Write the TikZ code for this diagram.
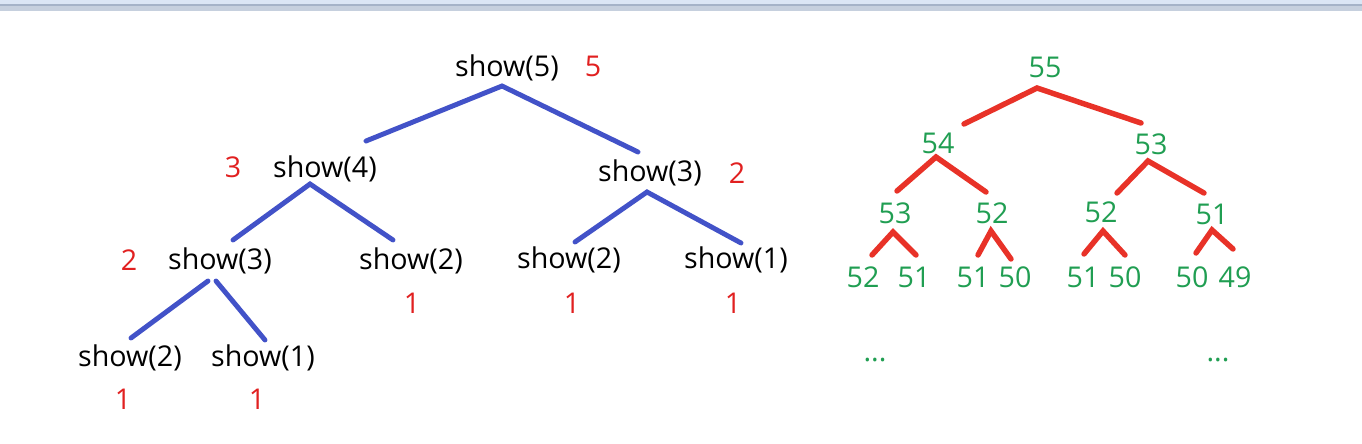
\documentclass[tikz,border=0pt]{standalone}
\usepackage{fontspec}
\setmainfont{Open Sans}
\usepackage{tikz}
\usetikzlibrary{calc}

\definecolor{edgeblue}{RGB}{66,82,200}
\definecolor{edgered}{RGB}{232,50,40}
\definecolor{countred}{RGB}{225,32,32}
\definecolor{valgreen}{RGB}{32,158,82}
\definecolor{barlight}{RGB}{219,230,245}
\definecolor{bardark}{RGB}{165,179,200}
\definecolor{barmid}{RGB}{198,208,222}

\begin{document}
\begin{tikzpicture}[x=0.02cm, y=-0.02cm]
			\tikzstyle{Call}	= [inner sep=0pt, text height=12.4pt, text depth=3.3pt, font=\fontsize{16.3}{19}\selectfont]
			\tikzstyle{Count}	= [Call, text=countred]
			\tikzstyle{Value}	= [Call, text=valgreen]
			\tikzstyle{CE}		= [line width=2.8pt, line cap=round, edgeblue]
			\tikzstyle{VE}		= [line width=3.1pt, line cap=round, edgered]
			
			\useasboundingbox (0, 0) rectangle (1362, 443);
			\fill [white] (0, 0) rectangle (1362, 443);
			\fill [barlight] (0, 0) rectangle (1362, 4);
			\fill [bardark] (0, 4) rectangle (1362, 6);
			\fill [barmid] (0, 6) rectangle (1362, 11);
			
			% calls of show
			\node (c5) at (507, 69) [Call] {show(5)};
			\node (c4) at (325, 170) [Call] {show(4)};
			\node (c3a) at (650, 174) [Call] {show(3)};
			\node (c3b) at (220, 262) [Call] {show(3)};
			\node (c2a) at (411, 262) [Call] {show(2)};
			\node (c2b) at (569, 261) [Call] {show(2)};
			\node (c1a) at (736, 261) [Call] {show(1)};
			\node (c2c) at (130, 358) [Call] {show(2)};
			\node (c1b) at (263, 358) [Call] {show(1)};
			
			\node (k5) at (593, 69) [Count] {5};
			\node (k4) at (233, 170) [Count] {3};
			\node (k3a) at (737, 176) [Count] {2};
			\node (k3b) at (129, 263) [Count] {2};
			\node (k2a) at (412, 305) [Count] {1};
			\node (k2b) at (572, 305) [Count] {1};
			\node (k1a) at (733, 305) [Count] {1};
			\node (k2c) at (123, 401) [Count] {1};
			\node (k1b) at (257, 401) [Count] {1};
			
			\draw [-] ($(c4)+(41,-29)$) to ($(c5)+(-5,17)$) to ($(c3a)+(-12,-22)$) [CE];
			\draw [-] ($(c3b)+(13,-22)$) to ($(c4)+(-15,14)$) to ($(c2a)+(-18,-22)$) [CE];
			\draw [-] ($(c2b)+(6,-19)$) to ($(c3a)+(-3,18)$) to ($(c1a)+(5,-18)$) [CE];
			\draw [-] ($(c3b)+(-12,19)$) to ($(c2c)+(1,-20)$) [CE];
			\draw [-] ($(c3b)+(-4,19)$) to ($(c1b)+(2,-18)$) [CE];
			
			% values
			\node (v55) at (1045, 70) [Value] {55};
			\node (v54) at (938, 146) [Value] {54};
			\node (v53) at (1151, 147) [Value] {53};
			\node (v53a) at (895, 216) [Value] {53};
			\node (v52a) at (992, 216) [Value] {52};
			\node (v52b) at (1101, 215) [Value] {52};
			\node (v51a) at (1212, 217) [Value] {51};
			\node (w52) at (863, 279) [Value] {52};
			\node (w51) at (914, 279) [Value] {51};
			\node (w51b) at (973, 279) [Value] {51};
			\node (w50) at (1015, 279) [Value] {50};
			\node (w51c) at (1083, 279) [Value] {51};
			\node (w50b) at (1125, 279) [Value] {50};
			\node (w50c) at (1192, 279) [Value] {50};
			\node (w49) at (1235, 279) [Value] {49};
			\node (dl) at (875, 353) [Value] {...};
			\node (dr) at (1218, 353) [Value] {...};
			
			\draw [-] ($(v54)+(26,-22)$) to ($(v55)+(-8,18)$) to ($(v53)+(-10,-24)$) [VE];
			\draw [-] ($(v53a)+(2,-25)$) to ($(v54)+(-2,11)$) to ($(v52a)+(-6,-24)$) [VE];
			\draw [-] ($(v52b)+(16,-22)$) to ($(v53)+(-3,14)$) to ($(v51a)+(-8,-24)$) [VE];
			\draw [-] ($(w52)+(9,-24)$) to ($(v53a)+(-2,16)$) to ($(w51)+(2,-24)$) [VE];
			\draw [-] ($(w51b)+(5,-24)$) to ($(v52a)+(-1,15)$) to ($(w50)+(-4,-20)$) [VE];
			\draw [-] ($(w51c)+(1,-25)$) to ($(v52b)+(2,16)$) to ($(w50b)+(0,-24)$) [VE];
			\draw [-] ($(w50c)+(4,-26)$) to ($(v51a)+(0,13)$) to ($(w49)+(-2,-30)$) [VE];
		\end{tikzpicture}
\end{document}
